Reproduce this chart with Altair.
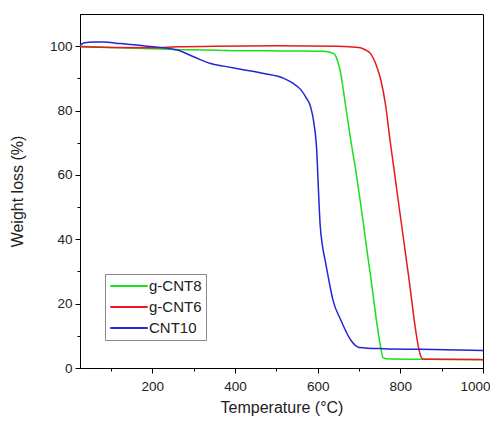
import altair as alt
import pandas as pd

series_names = ["g-CNT8", "g-CNT6", "CNT10"]
series_colors = ["#19e019", "#e8191c", "#2525d8"]

gcnt8_temp = [25, 100, 200, 260, 400, 560, 610, 630, 640, 648, 656, 662, 668, 680, 692, 726, 753, 758, 765, 850, 1000]
gcnt8_wt = [100, 99.6, 99.2, 99.0, 98.6, 98.5, 98.4, 98.1, 97.6, 95.5, 91.5, 86.5, 81.1, 70.8, 61.5, 30.4, 6.1, 3.2, 2.9, 2.7, 2.6]

gcnt6_temp = [25, 100, 200, 260, 350, 500, 650, 700, 715, 728, 742, 753, 765, 775, 785, 818, 850, 855, 870, 1000]
gcnt6_wt = [99.8, 99.6, 99.5, 99.8, 100, 100.1, 100, 99.6, 98.9, 97.7, 94.0, 89.4, 81.1, 70.8, 61.5, 30.4, 3.5, 2.8, 2.7, 2.6]

cnt10_temp = [25, 34, 58, 80, 122, 187, 260, 300, 341, 373, 420, 470, 518, 540, 559, 572, 583, 591, 598, 602, 606, 611, 618, 627, 637, 656, 680, 700, 760, 850, 1000]
cnt10_wt = [100.3, 101.0, 101.3, 101.3, 100.8, 100.0, 98.8, 96.7, 94.6, 93.8, 92.7, 91.5, 90.0, 88.5, 86.5, 84.0, 81.1, 76.0, 67.0, 55.0, 44.5, 38.5, 33.5, 27.3, 21.1, 14.9, 8.7, 6.4, 6.0, 5.8, 5.4]

x_tick_values = [100, 200, 300, 400, 500, 600, 700, 800, 900, 1000]
y_tick_values = [0, 10, 20, 30, 40, 50, 60, 70, 80, 90, 100]

rows = []
for name, temps, wts in [
    ("g-CNT8", gcnt8_temp, gcnt8_wt),
    ("g-CNT6", gcnt6_temp, gcnt6_wt),
    ("CNT10", cnt10_temp, cnt10_wt),
]:
    for j, (t, w) in enumerate(zip(temps, wts)):
        rows.append({"series": name, "temp": t, "wt": w, "idx": j})
df = pd.DataFrame(rows)

FONT = "Liberation Sans"

chart = alt.Chart(df).mark_line(strokeWidth=1.5, interpolate="monotone").encode(
    x=alt.X(
        "temp:Q",
        scale=alt.Scale(domain=[25, 1000], nice=False, zero=False),
        axis=alt.Axis(
            values=x_tick_values,
            format="d",
            labelExpr="datum.value % 200 == 0 ? datum.label : ''",
            tickSize={"condition": {"test": "datum.value % 200 != 0", "value": 3}, "value": 5},
            grid=False,
            labelFlush=True,
            labelFlushOffset=7,
            labelPadding=6,
            title="Temperature (°C)",
            titlePadding=7,
        ),
    ),
    y=alt.Y(
        "wt:Q",
        scale=alt.Scale(domain=[0, 110], nice=False),
        axis=alt.Axis(
            values=y_tick_values,
            format="d",
            labelExpr="datum.value % 20 == 0 ? datum.label : ''",
            tickSize={"condition": {"test": "datum.value % 20 != 0", "value": 3}, "value": 5},
            grid=False,
            labelPadding=3,
            title="Weight loss (%)",
            titlePadding=24,
        ),
    ),
    color=alt.Color(
        "series:N",
        scale=alt.Scale(domain=series_names, range=series_colors),
        legend=alt.Legend(
            title=None,
            orient="none",
            legendX=25,
            legendY=260,
            strokeColor="#888888",
            padding=4,
            labelFontSize=15,
            labelFont=FONT,
            labelColor="#222222",
            symbolType="stroke",
            symbolSize=1400,
            symbolStrokeWidth=2,
            clipHeight=16,
            rowPadding=5,
            labelOffset=0,
        ),
    ),
    order="idx:Q",
).properties(
    width=403,
    height=354,
    autosize=alt.AutoSizeParams(type="none"),
    padding={"left": 72, "top": 6, "right": 7, "bottom": 48},
).configure_view(
    stroke="black", strokeWidth=1
).configure_axis(
    domainColor="black",
    tickColor="black",
    labelFont=FONT,
    labelFontSize=13.5,
    labelColor="#222222",
    titleFont=FONT,
    titleFontSize=16,
    titleFontWeight="normal",
    titleColor="#222222",
)

chart.save("out.html", embed_options={"renderer": "svg", "actions": False})
